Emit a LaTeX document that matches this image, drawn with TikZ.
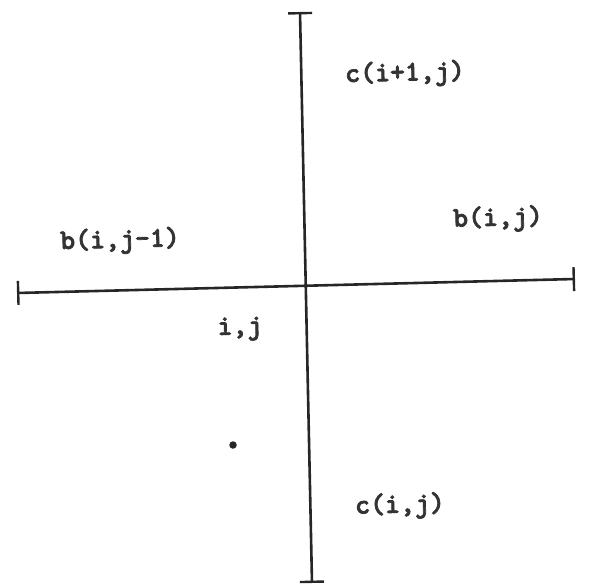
\documentclass[tikz,border=0pt]{standalone}
\usepackage{fontspec}
\newfontfamily\typew{lmmonolt10-bold.otf}
\newcommand\heavytext[1]{\special{pdf:literal 2 Tr 0.7 w}#1\special{pdf:literal 0 Tr}}
\usetikzlibrary{arrows.meta}
\tikzset{
  axis/.style={line width=2.6pt, color=black!85, {Bar[width=24pt,line width=2.4pt]}-{Bar[width=24pt,line width=2.4pt]}},
  lbl/.style={font=\fontsize{28.5}{32}\selectfont\typew, text=black!80, inner sep=0pt, rotate=1.4},
  pt/.style={circle, fill=black!85, inner sep=0pt, minimum size=7.5pt}
}
\begin{document}
\begin{tikzpicture}[x=1pt,y=-1pt]
\useasboundingbox (0,0) rectangle (589,585);
\coordinate (T) at (300,12);
\coordinate (B) at (312,583);
\coordinate (L) at (17,293);
\coordinate (R) at (575,279);
\draw[axis] (T) -- (B);
\draw[axis] (L) -- (R);
\node[lbl] (cip) at (405,74) {\heavytext{c(i+1,j)}};
\node[lbl] (bij) at (498,219) {\heavytext{b(i,j)}};
\node[lbl] (bijm) at (120,241) {\heavytext{b(i,j-1)}};
\node[lbl] (ij) at (240,329) {\heavytext{i,j}};
\node[lbl] (cij) at (400,506) {\heavytext{c(i,j)}};
\node[pt] (dot) at (233,445) {};
\end{tikzpicture}
\end{document}
